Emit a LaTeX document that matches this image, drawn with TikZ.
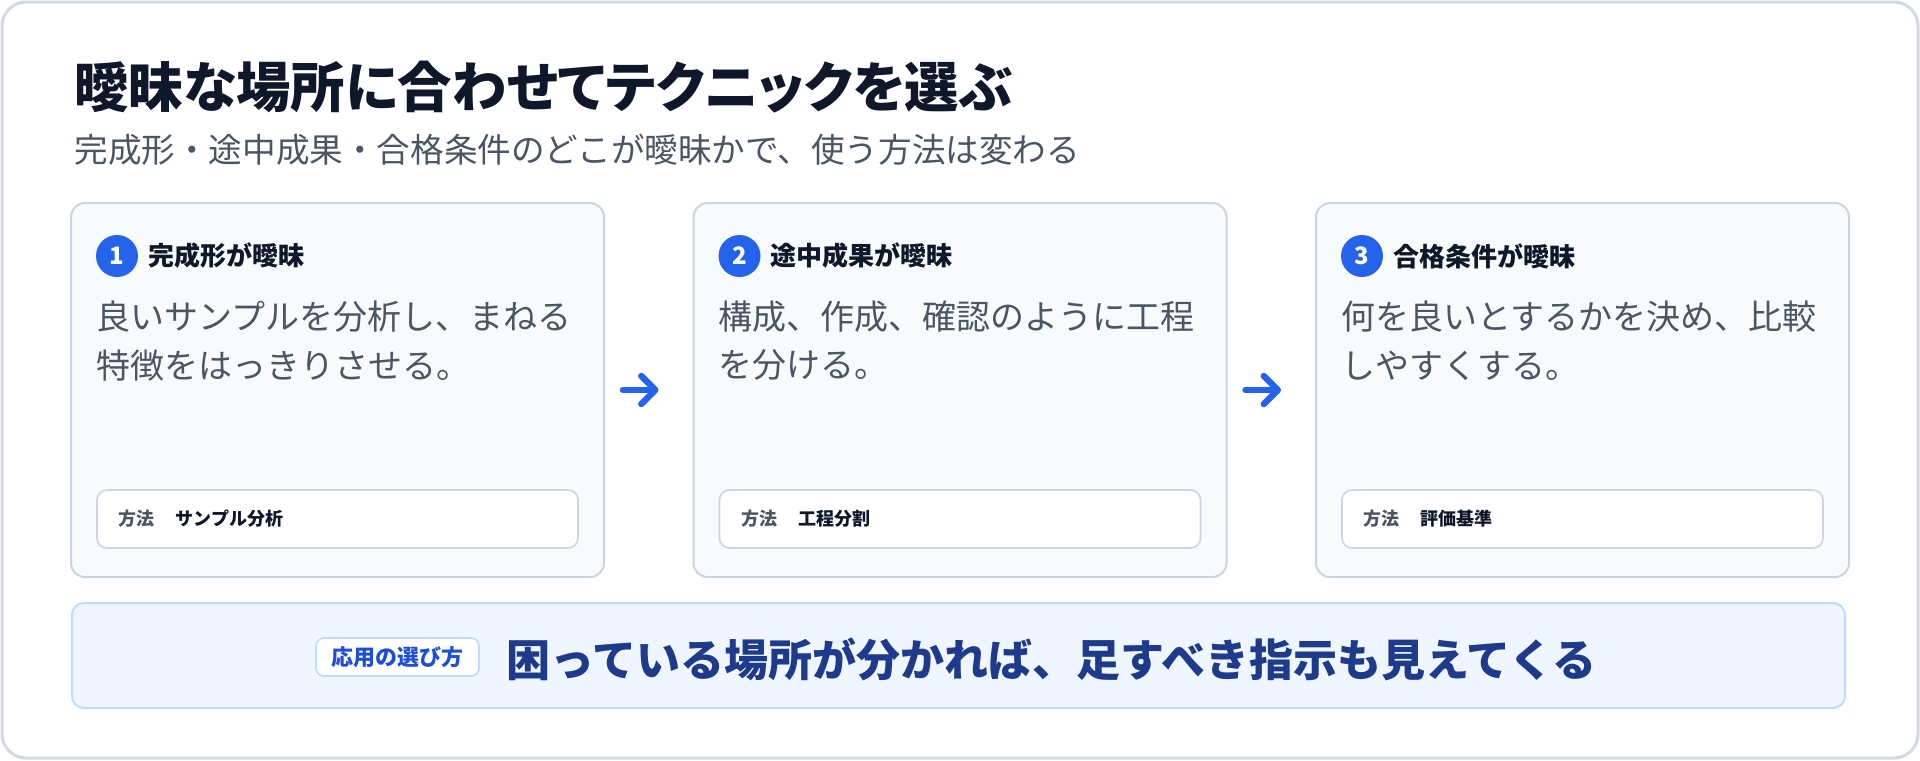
\documentclass[tikz,border=0pt]{standalone}
\usepackage{fontspec}
\setmainfont{Noto Sans CJK JP}
\usetikzlibrary{shapes,arrows.meta,positioning,calc}
\definecolor{ink}{HTML}{0F172A}
\definecolor{slate}{HTML}{4B5563}
\definecolor{edge}{HTML}{CBD5E1}
\definecolor{cardbg}{HTML}{F8FAFC}
\definecolor{frame}{HTML}{D3DAE5}
\definecolor{accent}{HTML}{2563EB}
\definecolor{bandbg}{HTML}{EFF6FF}
\definecolor{bandedge}{HTML}{BFDBFE}
\definecolor{tagtext}{HTML}{1D4ED8}
\definecolor{navy}{HTML}{1E3A8A}
\tikzstyle{card} = [draw=edge,line width=1pt,fill=cardbg,rectangle,rounded corners=7pt,minimum width=266.5pt,minimum height=187pt,inner sep=0]
\tikzstyle{badge} = [circle,fill=accent,text=white,font=\bfseries\fontsize{12pt}{12pt}\selectfont,minimum size=21pt,inner sep=0]
\tikzstyle{heading} = [anchor=west,inner sep=0,text=ink,font=\bfseries\fontsize{13pt}{13pt}\selectfont]
\tikzstyle{body} = [anchor=north west,inner sep=0,align=left,text=slate,font=\fontsize{17pt}{24.5pt}\selectfont]
\tikzstyle{method} = [draw=edge,line width=0.8pt,fill=white,rectangle,rounded corners=5pt,minimum width=240.5pt,minimum height=29pt]
\tikzstyle{methodkey} = [anchor=west,inner sep=0,text=slate,font=\bfseries\fontsize{9pt}{9pt}\selectfont]
\tikzstyle{methodval} = [anchor=west,inner sep=0,text=ink,font=\bfseries\fontsize{9pt}{9pt}\selectfont]
\tikzstyle{flow} = [-{Straight Barb[length=7pt,width=14pt,round]},draw=accent,line width=3.2pt,line cap=round,shorten <=9pt,shorten >=17pt]
\def \pad {26}

\begin{document}
\begin{tikzpicture}[x=0.5pt,y=-0.5pt]
  \useasboundingbox (0,0) rectangle (1920,760);
  \draw[frame,line width=1.5pt,fill=white,rounded corners=12pt] (2,2) rectangle (1918,758);
  % title
  \node[anchor=west,inner sep=0,text=ink,font=\bfseries\fontsize{27.2pt}{27.2pt}\selectfont\addfontfeatures{RawFeature=+palt}] (title) at (74,87) {曖昧な場所に合わせてテクニックを選ぶ};
  \node[anchor=west,inner sep=0,text=slate,font=\fontsize{16.8pt}{16.8pt}\selectfont] (subtitle) at (74,150) {完成形・途中成果・合格条件のどこが曖昧かで、使う方法は変わる};
  % cards
  \node[card] (c1) at (337.5,390) {};
  \node[badge] (b1) at ($(c1.north west)+(47,54)$) {1};
  \node[heading] (h1) at ($(c1.north west)+(78,54)$) {完成形が曖昧};
  \node[body] (t1) at ($(c1.north west)+(\pad,98)$) {良いサンプルを分析し、まねる\\特徴をはっきりさせる。};
  \node[method] (m1) at ($(c1.south)+(0,-59)$) {};
  \node[methodkey] at ($(m1.west)+(22,0)$) {方法};
  \node[methodval] (v1) at ($(m1.west)+(79,0)$) {サンプル分析};

  \node[card] (c2) at (960,390) {};
  \node[badge] (b2) at ($(c2.north west)+(47,54)$) {2};
  \node[heading] (h2) at ($(c2.north west)+(78,54)$) {途中成果が曖昧};
  \node[body] (t2) at ($(c2.north west)+(\pad,98)$) {構成、作成、確認のように工程\\を分ける。};
  \node[method] (m2) at ($(c2.south)+(0,-59)$) {};
  \node[methodkey] at ($(m2.west)+(22,0)$) {方法};
  \node[methodval] (v2) at ($(m2.west)+(79,0)$) {工程分割};

  \node[card] (c3) at (1582.5,390) {};
  \node[badge] (b3) at ($(c3.north west)+(47,54)$) {3};
  \node[heading] (h3) at ($(c3.north west)+(78,54)$) {合格条件が曖昧};
  \node[body] (t3) at ($(c3.north west)+(\pad,98)$) {何を良いとするかを決め、比較\\しやすくする。};
  \node[method] (m3) at ($(c3.south)+(0,-59)$) {};
  \node[methodkey] at ($(m3.west)+(22,0)$) {方法};
  \node[methodval] (v3) at ($(m3.west)+(79,0)$) {評価基準};

  \draw[flow] (c1.east) -- (c2.west);
  \draw[flow] (c2.east) -- (c3.west);
  % takeaway band
  \node[draw=bandedge,line width=1pt,fill=bandbg,rounded corners=6pt,minimum width=886.5pt,minimum height=52.5pt] (band) at (958.5,655.5) {};
  \node[draw=bandedge,line width=0.8pt,fill=white,rounded corners=4pt,minimum width=81.5pt,minimum height=19pt,inner sep=0,text=tagtext,font=\bfseries\fontsize{11pt}{11pt}\selectfont] (tag) at (397.5,657) {応用の選び方};
  \node[anchor=west,inner sep=0,text=navy,font=\bfseries\fontsize{22pt}{22pt}\selectfont] (point) at (506,659) {困っている場所が分かれば、足すべき指示も見えてくる};
\end{tikzpicture}
\end{document}
